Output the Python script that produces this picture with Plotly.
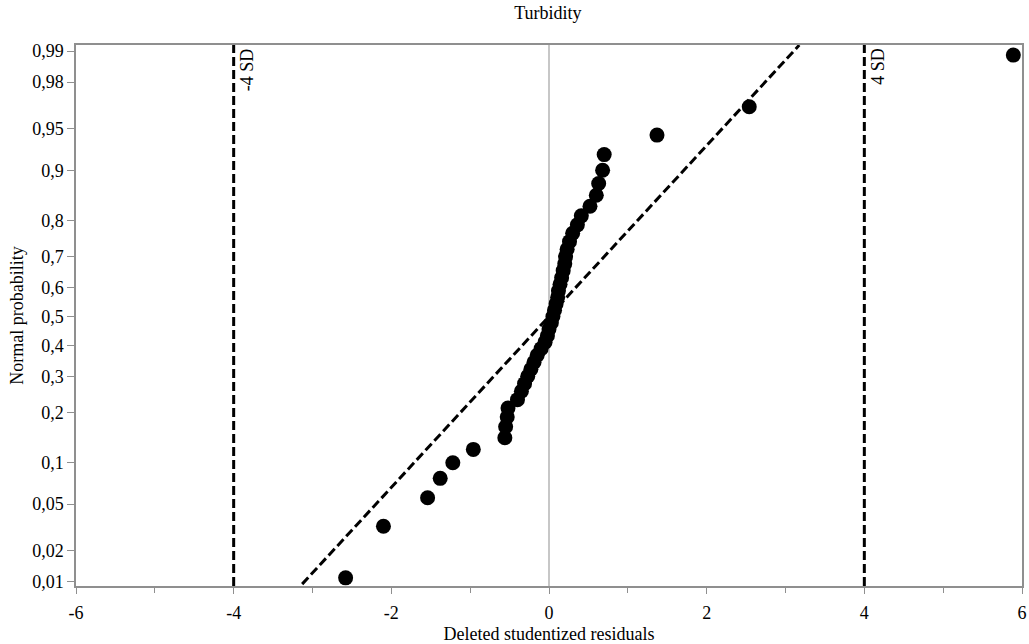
from statistics import NormalDist
import plotly.graph_objects as go

# ---- data ----
residuals = [-2.58, -2.10, -1.54, -1.38, -1.22, -0.96, -0.56, -0.55, -0.53, -0.52,
             -0.40, -0.35, -0.31, -0.27, -0.23, -0.19, -0.15, -0.10, -0.05, -0.02,
             0.00, 0.03, 0.05, 0.07, 0.09, 0.11, 0.12, 0.14, 0.16, 0.18,
             0.20, 0.21, 0.23, 0.26, 0.30, 0.36, 0.41, 0.52, 0.60, 0.63,
             0.68, 0.70, 1.37, 2.54, 5.89]
probabilities = [0.011, 0.033, 0.056, 0.078, 0.100, 0.122, 0.144, 0.167, 0.189, 0.211,
                 0.233, 0.256, 0.278, 0.300, 0.322, 0.344, 0.367, 0.389, 0.411, 0.433,
                 0.456, 0.478, 0.500, 0.522, 0.544, 0.567, 0.589, 0.611, 0.633, 0.656,
                 0.678, 0.700, 0.722, 0.744, 0.767, 0.789, 0.811, 0.833, 0.856, 0.878,
                 0.900, 0.922, 0.944, 0.967, 0.989]
prob_ticks = [0.01, 0.02, 0.05, 0.1, 0.2, 0.3, 0.4, 0.5, 0.6, 0.7, 0.8, 0.9, 0.95, 0.98, 0.99]
prob_labels = ["0,01", "0,02", "0,05", "0,1", "0,2", "0,3", "0,4", "0,5", "0,6", "0,7",
               "0,8", "0,9", "0,95", "0,98", "0,99"]
x_ticks = [-6, -4, -2, 0, 2, 4, 6]
x_labels = ["-6", "-4", "-2", "0", "2", "4", "6"]
sd_limits = [-4, 4]
sd_labels = ["-4 SD", "4 SD"]
line_mean = 0.0
line_sd = 1.335
line_prob_ends = [0.0095, 0.9913]

nd = NormalDist()
probit = nd.inv_cdf
z_pts = [probit(p) for p in probabilities]
z_ticks = [probit(p) for p in prob_ticks]
z_line = [probit(p) for p in line_prob_ends]
x_line = [line_mean + line_sd * z for z in z_line]

FONT = "Liberation Serif, Times New Roman, serif"
GREY = "#8f8f8f"
FS = 18

fig = go.Figure()
fig.add_trace(go.Scatter(x=x_line, y=z_line, mode="lines",
                         line=dict(color="black", width=3, dash="9px,4px"),
                         hoverinfo="skip", showlegend=False))
fig.add_trace(go.Scatter(x=residuals, y=z_pts, mode="markers",
                         marker=dict(color="black", size=15),
                         showlegend=False, cliponaxis=False))

shapes = []
annotations = []
for v, lab in zip(sd_limits, sd_labels):
    shapes.append(dict(type="line", xref="x", yref="paper", x0=v, x1=v, y0=0, y1=1,
                       line=dict(color="black", width=3, dash="9px,4px"), layer="above"))
    annotations.append(dict(x=v, y=1, xref="x", yref="paper", text=lab, showarrow=False,
                            textangle=-90, xanchor="left", yanchor="top", xshift=1, yshift=-1,
                            font=dict(family=FONT, size=FS, color="black")))
shapes.append(dict(type="line", xref="x", yref="paper", x0=0, x1=0, y0=0, y1=1,
                   line=dict(color=GREY, width=1), layer="below"))

fig.update_layout(
    width=1029, height=644,
    margin=dict(l=76, r=7, t=45, b=58),
    paper_bgcolor="white", plot_bgcolor="white",
    font=dict(family=FONT, size=FS, color="black"),
    title=dict(text="Turbidity", x=0.5325, xanchor="center", y=0.99, yanchor="top",
               font=dict(family=FONT, size=FS, color="black")),
    shapes=shapes, annotations=annotations,
    xaxis=dict(range=[-6, 6], tickvals=x_ticks, ticktext=x_labels, automargin=False,
               ticks="outside", ticklen=6, tickcolor=GREY, tickwidth=1, ticklabelstandoff=4,
               minor=dict(ticks="outside", ticklen=5, tickcolor=GREY, dtick=1, tick0=-6, showgrid=False),
               showline=True, linecolor=GREY, linewidth=1.5, mirror=True,
               showgrid=False, zeroline=False,
               title=dict(text="Deleted studentized residuals", standoff=6,
                          font=dict(family=FONT, size=FS))),
    yaxis=dict(range=[-2.362, 2.379], tickvals=z_ticks, ticktext=prob_labels, automargin=False,
               ticks="outside", ticklen=7, tickcolor=GREY, tickwidth=1,
               showline=True, linecolor=GREY, linewidth=1.5, mirror=True,
               showgrid=False, zeroline=False,
               title=dict(text="Normal probability", standoff=4,
                          font=dict(family=FONT, size=FS))),
)

fig.write_html("out.html", config={"displayModeBar": False},
               post_script="document.body.style.margin='0';document.body.style.overflow='hidden';")
